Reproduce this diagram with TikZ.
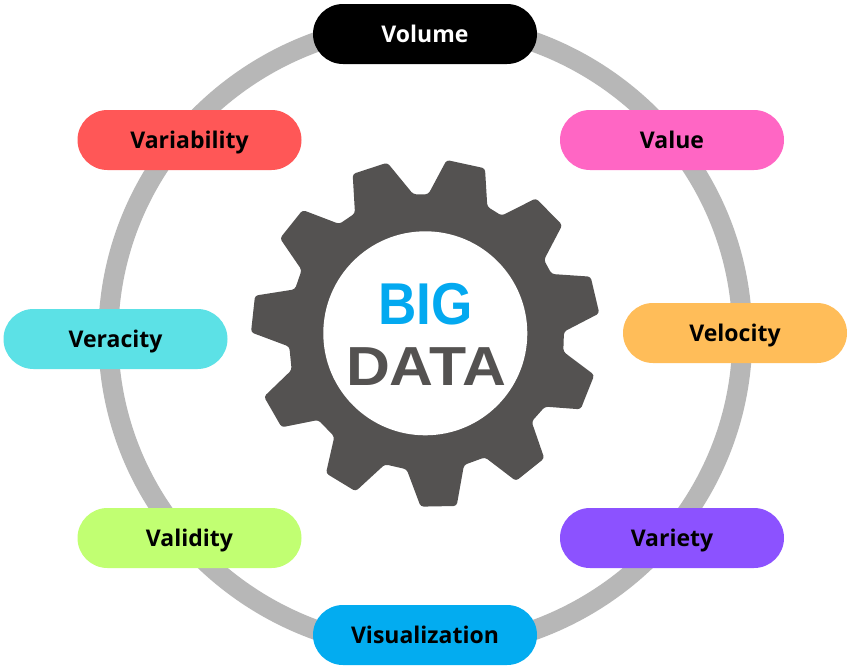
\documentclass[tikz,border=0pt]{standalone}
\usepackage{fontspec}
\usetikzlibrary{shapes.misc}
\setmainfont{Open Sans}
\newfontfamily\bigfont{Liberation Sans}
\definecolor{ringgray}{HTML}{B7B7B7}
\definecolor{geargray}{HTML}{545251}
\definecolor{bigblue}{HTML}{03A9F0}
\begin{document}
\begin{tikzpicture}[x=1pt,y=-1pt,
  pill/.style={rounded rectangle,minimum width=224pt,minimum height=60pt,inner sep=0pt,text=black,
    text height=17.6pt,text depth=1pt,font=\fontsize{23}{23}\selectfont\bfseries}]
\useasboundingbox (0,0) rectangle (851,670);
\fill[white] (0,0) rectangle (851,670);
\coordinate (c) at (425.3,336);
\draw[ringgray,line width=20pt] (c) ellipse[x radius=317,y radius=313];
\begin{scope}[shift={(240,150)},x=0.3333pt,y=-0.3333pt]
\fill[geargray,rounded corners=3pt] (520,133)--(565,133)--(620,30)--(735,55)--(742,170)--(785,197)--(888,145)--(967,225)--(912,330)--(935,372)--(1052,380)--(1078,490)--(972,545)--(970,605)--(1063,675)--(1022,778)--(915,770)--(875,815)--(913,925)--(828,993)--(735,922)--(672,945)--(650,1068)--(542,1070)--(500,958)--(435,943)--(347,1024)--(258,970)--(283,860)--(235,810)--(125,832)--(72,740)--(155,660)--(148,590)--(33,547)--(45,437)--(165,418)--(185,360)--(120,265)--(188,180)--(298,222)--(345,190)--(338,72)--(442,38)--cycle;
\end{scope}
\node[circle,fill=white,minimum size=204pt,inner sep=0pt] (hub) at (425.3,333.3) {};
\node[font=\bigfont\fontsize{59}{59}\selectfont\bfseries,text=bigblue,inner sep=0pt,xscale=0.9,transform shape] (big) at (425.5,304) {BIG};
\node[font=\bigfont\fontsize{55}{55}\selectfont\bfseries,text=geargray,inner sep=0pt,xscale=1.105,transform shape] (data) at (426,366.3) {DATA};
\node[pill,fill=black,text=white] (volume) at (425,34) {Volume};
\node[pill,fill={rgb,255:red,255;green,102;blue,196}] (value) at (672,140) {Value};
\node[pill,fill={rgb,255:red,255;green,189;blue,89}] (velocity) at (735,333) {Velocity};
\node[pill,fill={rgb,255:red,140;green,82;blue,255}] (variety) at (672,538) {Variety};
\node[pill,fill={rgb,255:red,3;green,172;blue,240}] (visualization) at (425,635) {Visualization};
\node[pill,fill={rgb,255:red,193;green,255;blue,114}] (validity) at (189.5,538) {Validity};
\node[pill,fill={rgb,255:red,92;green,225;blue,230}] (veracity) at (115.5,339) {Veracity};
\node[pill,fill={rgb,255:red,255;green,87;blue,87}] (variability) at (189.5,140) {Variability};
\end{tikzpicture}
\end{document}
